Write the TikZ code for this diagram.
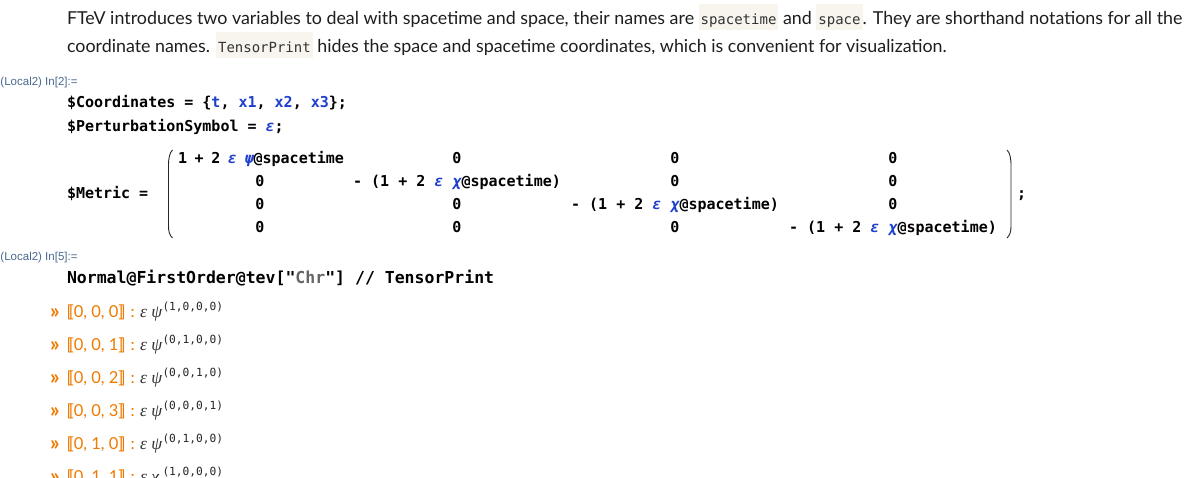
\documentclass[tikz,border=0pt]{standalone}
\usepackage{fontspec}
\setmainfont{Lato}
\newfontfamily\codefont{DejaVu Sans Mono}
\newfontfamily\lblfont{Liberation Sans}
\newfontfamily\gkfont{Liberation Serif}
\definecolor{txt}{HTML}{1E1E1E}
\definecolor{boxbg}{HTML}{F8F5EE}
\definecolor{codegray}{HTML}{333333}
\definecolor{cblue}{HTML}{1F3FCF}
\definecolor{strgray}{HTML}{666666}
\definecolor{lblc}{HTML}{4A6A90}
\definecolor{orng}{HTML}{F07A00}
\newcommand{\cbox}[1]{{\setlength{\fboxsep}{0pt}\colorbox{boxbg}{\rule[-5.5pt]{0pt}{26.5pt}\hspace{2pt}{\codefont\fontsize{14}{15}\selectfont\color{codegray}#1}\hspace{2pt}}}}
\newcommand{\bgk}[1]{\textcolor{cblue}{\itshape #1}}
\newcommand{\bl}[1]{\textcolor{cblue}{#1}}
\newcommand{\lbk}{[\kern-2.8pt[}
\newcommand{\rbk}{]\kern-2.8pt]}
\newcommand{\gp}{\hspace{7.6pt}}
\begin{document}
\begin{tikzpicture}[x=1pt,y=-1pt,
  every node/.style={inner sep=0pt, outer sep=0pt},
  prose/.style={anchor=base west, font=\fontsize{17.85}{20}\selectfont, text=txt},
  codeA/.style={anchor=base west, font=\codefont\bfseries\fontsize{15}{18}\selectfont, text=black},
  codeB/.style={anchor=base west, font=\codefont\bfseries\fontsize{16.5}{18}\selectfont, text=black},
  cell/.style={anchor=base, font=\codefont\bfseries\fontsize{15}{18}\selectfont, text=black},
  lbl/.style={anchor=base west, font=\lblfont\fontsize{11.5}{12}\selectfont, text=lblc},
  arr/.style={anchor=base west, font=\bfseries\fontsize{21}{22}\selectfont, text=orng},
  outl/.style={anchor=base west, font=\fontsize{16.5}{20}\selectfont, text=orng},
  gk/.style={anchor=base west, font=\gkfont\itshape\fontsize{17.5}{20}\selectfont, text=black!80},
  supx/.style={anchor=base west, font=\codefont\fontsize{11.2}{12}\selectfont, text=black!85},
  paren/.style={line width=0.9pt, draw=black!85}
]
\path[use as bounding box, fill=white] (0,0) rectangle (1185,478);
\clip (0,0) rectangle (1185,478);

% prose
\node[prose] (p1) at (67,25) {FTeV introduces two variables to deal with spacetime and space, their names are \cbox{spacetime} and \cbox{space}. They are shorthand notations for all the};
\node[prose] (p2) at (67,53) {coordinate names. \cbox{TensorPrint} hides the space and spacetime coordinates, which is convenient for visualization.};

% input cell 2
\node[lbl] (in2) at (0.5,85.5) {(Local2) In[2]:=};
\node[codeA] (c1) at (67,108) {\$Coordinates = \{\bl{t}, \bl{x1}, \bl{x2}, \bl{x3}\};};
\node[codeA] (c2) at (67,132) {\$PerturbationSymbol = \bgk{ε};};
\node[codeA] (c3) at (67,198.5) {\$Metric =};

% matrix
\node[cell] (m11) at (261,163.5) {1\gp+\gp2\gp\bgk{ε}\gp\bgk{ψ}@spacetime};
\node[cell] (m12) at (457,163.5) {0};
\node[cell] (m13) at (675,163.5) {0};
\node[cell] (m14) at (893,163.5) {0};
\node[cell] (m21) at (260,186.5) {0};
\node[cell] (m22) at (457,186.5) {- (1 + 2 \bgk{ε} \bgk{χ}@spacetime)};
\node[cell] (m23) at (675,186.5) {0};
\node[cell] (m24) at (893,186.5) {0};
\node[cell] (m31) at (260,209.5) {0};
\node[cell] (m32) at (457,209.5) {0};
\node[cell] (m33) at (675,209.5) {- (1 + 2 \bgk{ε} \bgk{χ}@spacetime)};
\node[cell] (m34) at (893,209.5) {0};
\node[cell] (m41) at (260,232.5) {0};
\node[cell] (m42) at (457,232.5) {0};
\node[cell] (m43) at (675,232.5) {0};
\node[cell] (m44) at (893,232.5) {- (1 + 2 \bgk{ε} \bgk{χ}@spacetime)};
\draw[paren] (172.5,150) .. controls (169.5,153) and (168.5,158) .. (168.5,166) -- (168.5,226) .. controls (168.5,232) and (169.5,235) .. (172.5,238);
\draw[paren] (1007,150) .. controls (1010,153) and (1011,158) .. (1011,166) -- (1011,226) .. controls (1011,232) and (1010,235) .. (1007,238);
\node[codeA] (semi) at (1017,198.5) {;};

% input cell 5
\node[lbl] (in5) at (0.5,261) {(Local2) In[5]:=};
\node[codeB] (c5) at (67,283.5) {Normal@FirstOrder@tev["\textcolor{strgray}{Chr}"] // TensorPrint};

% output rows
\node[arr] (a1) at (50,318) {»};
\node[outl] (l1) at (66.5,317) {\lbk0, 0, 0\rbk\hspace{5pt}:};
\node[gk] (g1) at (140,317) {ε ψ};
\node[supx] (s1) at (162.5,310) {(1,0,0,0)};

\node[arr] (a2) at (50,351) {»};
\node[outl] (l2) at (66.5,350) {\lbk0, 0, 1\rbk\hspace{5pt}:};
\node[gk] (g2) at (140,350) {ε ψ};
\node[supx] (s2) at (162.5,343) {(0,1,0,0)};

\node[arr] (a3) at (50,384) {»};
\node[outl] (l3) at (66.5,383) {\lbk0, 0, 2\rbk\hspace{5pt}:};
\node[gk] (g3) at (140,383) {ε ψ};
\node[supx] (s3) at (162.5,376) {(0,0,1,0)};

\node[arr] (a4) at (50,417) {»};
\node[outl] (l4) at (66.5,416) {\lbk0, 0, 3\rbk\hspace{5pt}:};
\node[gk] (g4) at (140,416) {ε ψ};
\node[supx] (s4) at (162.5,409) {(0,0,0,1)};

\node[arr] (a5) at (50,450) {»};
\node[outl] (l5) at (66.5,449) {\lbk0, 1, 0\rbk\hspace{5pt}:};
\node[gk] (g5) at (140,449) {ε ψ};
\node[supx] (s5) at (162.5,442) {(0,1,0,0)};

\node[arr] (a6) at (50,483) {»};
\node[outl] (l6) at (66.5,482) {\lbk0, 1, 1\rbk\hspace{5pt}:};
\node[gk] (g6) at (140,482) {ε χ};
\node[supx] (s6) at (162.5,475) {(1,0,0,0)};
\end{tikzpicture}
\end{document}
